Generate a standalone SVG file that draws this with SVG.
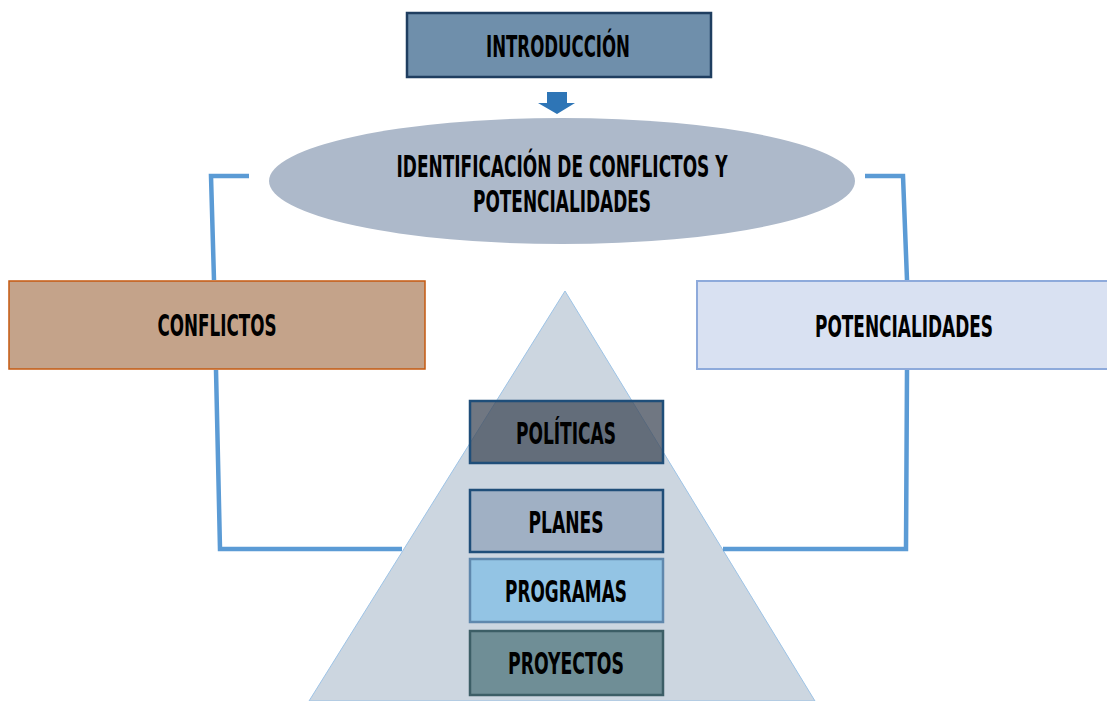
<svg xmlns="http://www.w3.org/2000/svg" width="1107" height="701" viewBox="0 0 1107 701">
<style>
.t{font-family:"DejaVu Sans","Liberation Sans",sans-serif;font-weight:bold;font-stretch:condensed;font-size:31px;fill:#000;text-anchor:middle}
.c{fill:none;stroke:#5b9bd5;stroke-width:4.5}
.box{stroke-width:2.5}
</style>
<rect width="1107" height="701" fill="#ffffff"/>
<g id="pyramid">
<polygon points="565,291 309,701 815,701" fill="#ccd6e0" stroke="#9dc3e6" stroke-width="1"/>
</g>
<g id="connectors">
<polyline class="c" points="249,176 211,176 214,280"/>
<polyline class="c" points="216,370 220,549 402,549"/>
<polyline class="c" points="865,176 903,176 907,280"/>
<polyline class="c" points="907,370 906,549 723,549"/>
<polygon points="547,92 567,92 567,103 575,103 557,114 538,103 547,103" fill="#2e75b6"/>
</g>
<g id="introduccion">
<rect class="box" x="407" y="13" width="304" height="64" fill="#6f8fab" stroke="#1f3e60"/>
<text class="t" x="558" y="57" textLength="144" lengthAdjust="spacingAndGlyphs">INTRODUCCIÓN</text>
</g>
<g id="identificacion">
<ellipse cx="562" cy="181" rx="293" ry="63" fill="#adb9ca"/>
<text class="t" x="562" y="177" textLength="331" lengthAdjust="spacingAndGlyphs">IDENTIFICACIÓN DE CONFLICTOS Y</text>
<text class="t" x="562" y="212" textLength="178" lengthAdjust="spacingAndGlyphs">POTENCIALIDADES</text>
</g>
<g id="conflictos">
<rect x="9" y="281" width="416" height="88" fill="#c4a38a" stroke="#c55a11" stroke-width="1.5"/>
<text class="t" x="217" y="336" textLength="119" lengthAdjust="spacingAndGlyphs">CONFLICTOS</text>
</g>
<g id="potencialidades">
<rect x="697" y="281" width="420" height="88" fill="#d9e1f2" stroke="#8eaadb" stroke-width="2"/>
<text class="t" x="904" y="337" textLength="178" lengthAdjust="spacingAndGlyphs">POTENCIALIDADES</text>
</g>
<g id="politicas">
<rect class="box" x="470" y="401" width="193" height="62" fill="#404a58" fill-opacity="0.75" stroke="#1f4e79"/>
<text class="t" x="566" y="444" textLength="100" lengthAdjust="spacingAndGlyphs">POLÍTICAS</text>
</g>
<g id="planes">
<rect class="box" x="470" y="490" width="193" height="62" fill="#a0b0c4" stroke="#1f4e79"/>
<text class="t" x="566" y="533" textLength="75" lengthAdjust="spacingAndGlyphs">PLANES</text>
</g>
<g id="programas">
<rect class="box" x="470" y="559" width="193" height="63" fill="#93c4e4" stroke="#5f88ad"/>
<text class="t" x="566" y="602" textLength="122" lengthAdjust="spacingAndGlyphs">PROGRAMAS</text>
</g>
<g id="proyectos">
<rect class="box" x="470" y="631" width="193" height="64" fill="#6f8e96" stroke="#3c5e66"/>
<text class="t" x="566" y="674" textLength="116" lengthAdjust="spacingAndGlyphs">PROYECTOS</text>
</g>
</svg>
